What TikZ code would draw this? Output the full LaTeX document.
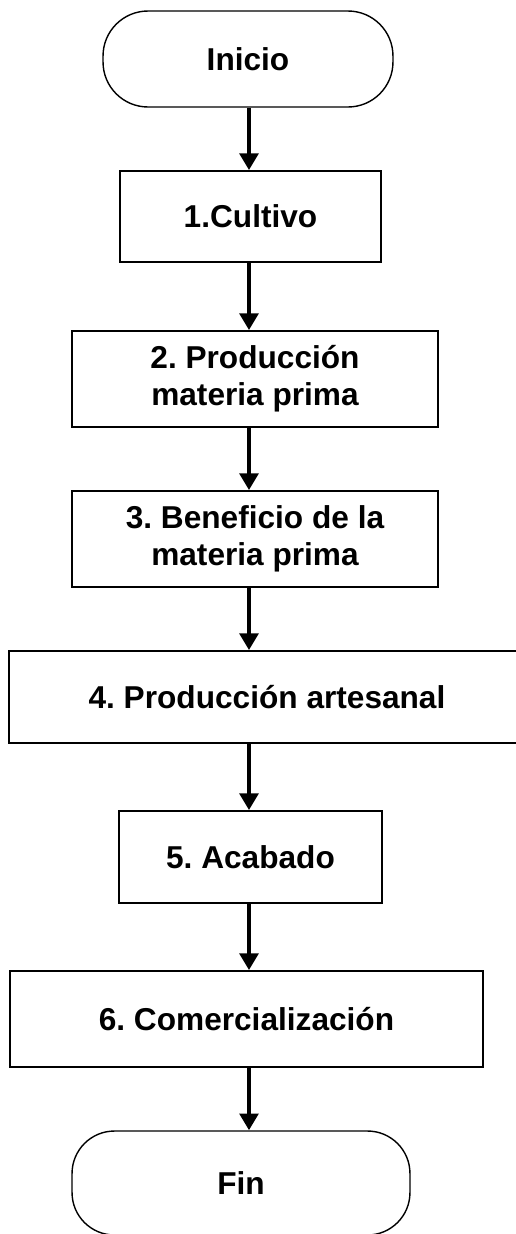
\documentclass[tikz,border=0pt]{standalone}
\usepackage{fontspec}
\setmainfont{Liberation Sans}
\usepackage{tikz}
\usetikzlibrary{arrows.meta,positioning,calc}
\frenchspacing

\begin{document}
\begin{tikzpicture}[
    x=0.02cm, y=-0.02cm,
    % Node styles for the flow chart
    terminal/.style={rectangle, draw=black, line width=0.8pt, rounded corners=0.9cm, align=center, font=\fontsize{18}{21}\selectfont\bfseries},
    stepbox/.style={rectangle, draw=black, line width=1pt, align=center, font=\fontsize{18}{21}\selectfont\bfseries},
    arrow/.style={-{Triangle[width=10.5pt,length=9.5pt]}, line width=2.8pt, color=black}
]
\useasboundingbox (0,0) rectangle (516,1234);
\clip (0,0) rectangle (516,1234);

% Vertical axis of the arrows
\coordinate (axis) at (249,0);

% Start and end
\node [terminal, minimum width=5.8cm, minimum height=1.92cm] (inicio) at (248,59) {Inicio};
\node [terminal, minimum width=6.76cm, minimum height=2.08cm, rounded corners=0.85cm] (fin) at (241,1183) {Fin};

% Process steps
\node [stepbox, minimum width=5.22cm, minimum height=1.82cm] (cultivo) at (250.5,216.5) {1.Cultivo};
\node [stepbox, minimum width=7.32cm, minimum height=1.92cm] (produccion) at (255,379) {2. Producción\\materia prima};
\node [stepbox, minimum width=7.32cm, minimum height=1.92cm] (beneficio) at (255,539) {3. Beneficio de la\\materia prima};
\node [stepbox, minimum width=10.32cm, minimum height=1.84cm] (artesanal) at (267,697) {4. Producción artesanal};
\node [stepbox, minimum width=5.26cm, minimum height=1.84cm] (acabado) at (250.5,857) {5. Acabado};
\node [stepbox, minimum width=9.46cm, minimum height=1.92cm] (comercial) at (246.5,1019) {6. Comercialización};

% Main vertical flow
\draw [arrow] (inicio.south -| axis) -- (cultivo.north -| axis);
\draw [arrow] (cultivo.south -| axis) -- (produccion.north -| axis);
\draw [arrow] (produccion.south -| axis) -- (beneficio.north -| axis);
\draw [arrow] (beneficio.south -| axis) -- (artesanal.north -| axis);
\draw [arrow] (artesanal.south -| axis) -- (acabado.north -| axis);
\draw [arrow] (acabado.south -| axis) -- (comercial.north -| axis);
\draw [arrow] (comercial.south -| axis) -- (fin.north -| axis);

\end{tikzpicture}
\end{document}
